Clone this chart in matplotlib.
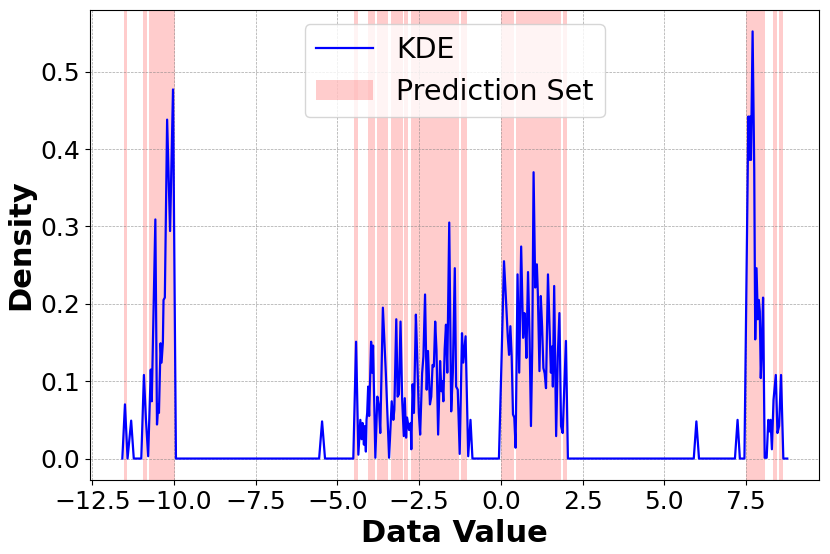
import matplotlib.pyplot as plt

# KDE curve (x, density)
kde_x = [-11.58, -11.50, -11.42, -11.31, -11.23, -11.00, -10.92, -10.86, -10.79, -10.71,
         -10.68, -10.57, -10.52, -10.48, -10.46, -10.41, -10.38, -10.34, -10.32, -10.28,
         -10.21, -10.12, -10.03, -9.94,
         -5.56, -5.47, -5.38,
         -4.515, -4.43, -4.36, -4.30, -4.26, -4.23, -4.19, -4.16, -4.13, -4.11, -4.09,
         -4.06, -4.03, -3.97, -3.94, -3.91, -3.84, -3.78, -3.73, -3.69, -3.61, -3.52,
         -3.42, -3.34, -3.29, -3.26, -3.20, -3.16, -3.12, -3.07, -3.02, -2.97, -2.94,
         -2.90, -2.87, -2.81, -2.76, -2.74, -2.70, -2.66, -2.60, -2.56, -2.51, -2.47,
         -2.41, -2.37, -2.32, -2.27, -2.23, -2.17, -2.13, -2.09, -2.05, -2.01, -1.97,
         -1.92, -1.86, -1.82, -1.79, -1.76, -1.72, -1.68, -1.64, -1.58, -1.52, -1.47,
         -1.41, -1.37, -1.32, -1.26, -1.19, -1.15, -1.08, -1.00, -0.93, -0.87,
         -0.06, 0.02, 0.095, 0.15, 0.21, 0.25, 0.29, 0.33, 0.37, 0.41, 0.45, 0.51, 0.56,
         0.62, 0.68, 0.72, 0.75, 0.78, 0.83, 0.88, 0.92, 0.96, 1.00, 1.05, 1.10, 1.13,
         1.18, 1.22, 1.26, 1.30, 1.34, 1.38, 1.44, 1.48, 1.53, 1.57, 1.59, 1.63, 1.69,
         1.74, 1.79, 1.84, 1.89, 1.99, 2.05,
         5.90, 5.98, 6.06,
         7.16, 7.24, 7.31, 7.45, 7.57, 7.60, 7.62, 7.65, 7.70, 7.75, 7.78, 7.82, 7.86,
         7.89, 7.92, 7.95, 7.98, 8.02, 8.07, 8.13, 8.18, 8.22, 8.25, 8.29, 8.34, 8.41,
         8.46, 8.51, 8.57, 8.64, 8.76]
kde_y = [0.0, 0.070, 0.0, 0.049, 0.0, 0.0, 0.108, 0.052, 0.003, 0.115,
         0.074, 0.309, 0.044, 0.070, 0.059, 0.149, 0.124, 0.150, 0.205, 0.208,
         0.438, 0.294, 0.477, 0.0,
         0.0, 0.048, 0.0,
         0.0, 0.151, 0.005, 0.050, 0.025, 0.046, 0.018, 0.042, 0.009, 0.050, 0.059,
         0.093, 0.055, 0.151, 0.111, 0.146, 0.001, 0.080, 0.068, 0.033, 0.195, 0.111,
         0.001, 0.074, 0.050, 0.063, 0.180, 0.080, 0.083, 0.177, 0.076, 0.029, 0.078,
         0.027, 0.053, 0.037, 0.046, 0.012, 0.096, 0.059, 0.186, 0.132, 0.059, 0.031,
         0.110, 0.132, 0.212, 0.089, 0.139, 0.070, 0.080, 0.121, 0.119, 0.177, 0.140,
         0.031, 0.126, 0.087, 0.100, 0.074, 0.141, 0.173, 0.111, 0.305, 0.061, 0.111,
         0.246, 0.093, 0.089, 0.006, 0.162, 0.124, 0.158, 0.003, 0.050, 0.0,
         0.0, 0.128, 0.255, 0.210, 0.158, 0.134, 0.171, 0.132, 0.057, 0.053, 0.014, 0.238, 0.111,
         0.274, 0.156, 0.188, 0.175, 0.130, 0.241, 0.150, 0.042, 0.145, 0.370, 0.221, 0.251, 0.214,
         0.113, 0.210, 0.171, 0.117, 0.110, 0.091, 0.238, 0.182, 0.111, 0.145, 0.093, 0.223, 0.029,
         0.132, 0.188, 0.042, 0.033, 0.152, 0.0,
         0.0, 0.048, 0.0,
         0.0, 0.050, 0.0, 0.0, 0.442, 0.386, 0.442, 0.386, 0.552, 0.373, 0.154, 0.246, 0.180,
         0.205, 0.190, 0.104, 0.140, 0.208, 0.001, 0.001, 0.050, 0.035, 0.050, 0.012, 0.076, 0.108,
         0.033, 0.042, 0.108, 0.0, 0.0]

# prediction set intervals
span_lo = [-11.52, -10.957, -10.759, -4.485, -4.075, -3.799, -3.371, -2.955, -2.759,
           -1.230, 0.0, 0.468, 1.894, 7.498, 8.324, 8.507]
span_hi = [-11.45, -10.826, -9.969, -4.381, -3.857, -3.463, -2.986, -2.833, -1.273,
           -1.022, 0.416, 1.854, 2.037, 8.088, 8.455, 8.639]

fig = plt.figure(figsize=(8.3, 5.54), dpi=100)
ax = fig.add_subplot(111)
fig.subplots_adjust(left=0.1084, right=0.9871, top=0.982, bottom=0.1336)

ax.plot(kde_x, kde_y, color='blue', linewidth=1.6, label='KDE')
for i in range(len(span_lo)):
    ax.axvspan(span_lo[i], span_hi[i], color='red', alpha=0.2, linewidth=0,
               label='Prediction Set' if i == 0 else None)

ax.set_xlim(-12.57, 9.74)
ax.set_ylim(-0.0277, 0.5797)
ax.grid(True, linestyle='--', linewidth=0.5, color='gray', alpha=0.7)
ax.set_xlabel('Data Value', fontsize=22, fontweight='bold')
ax.set_ylabel('Density', fontsize=22, fontweight='bold')
ax.tick_params(labelsize=18)
ax.legend(loc='upper center', fontsize=20.5)

fig.savefig('out.png', dpi=100)
